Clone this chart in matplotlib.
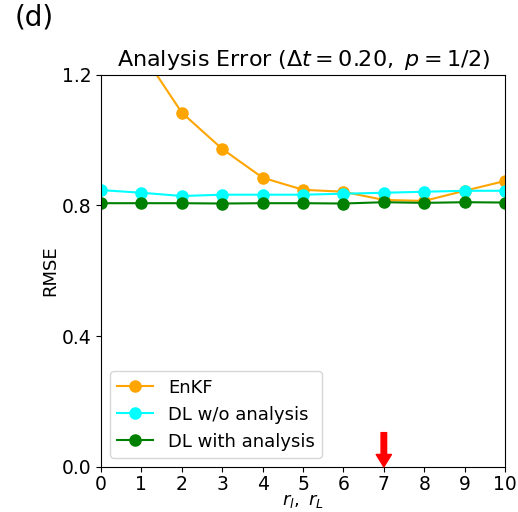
import numpy as np
import matplotlib.pyplot as plt

# localization radius
r = np.arange(0, 11)
enkf = [1.55, 1.27, 1.084, 0.973, 0.885, 0.848, 0.842, 0.817, 0.814, 0.845, 0.875]
dl_wo = [0.847, 0.839, 0.829, 0.833, 0.833, 0.833, 0.836, 0.839, 0.842, 0.845, 0.845]
dl_with = [0.807, 0.807, 0.807, 0.806, 0.807, 0.807, 0.806, 0.810, 0.808, 0.810, 0.809]
best_r = 7

fig = plt.figure(figsize=(5.18, 5.12), dpi=100)
ax = fig.add_axes([0.195, 0.088, 0.78, 0.766])

ax.plot(r, enkf, '-o', color='orange', markersize=8, label='EnKF')
ax.plot(r, dl_wo, '-o', color='cyan', markersize=8, label='DL w/o analysis')
ax.plot(r, dl_with, '-o', color='green', markersize=8, label='DL with analysis')

# red arrow marking the chosen radius
ax.annotate('', xy=(best_r, 0.0), xytext=(best_r, 0.105),
            arrowprops=dict(facecolor='red', edgecolor='red', width=4,
                            headwidth=11, headlength=9))

ax.set_xlim(0, 10)
ax.set_ylim(0, 1.2)
ax.set_xticks(range(0, 11))
ax.set_yticks([0.0, 0.4, 0.8, 1.2])
ax.tick_params(labelsize=13.5)
ax.tick_params(axis='x', pad=2)
ax.set_ylabel('RMSE', fontsize=13, labelpad=2)
ax.set_xlabel(r'$r_l,\ r_L$', fontsize=13, labelpad=-1)
ax.set_title(r'Analysis Error ($\Delta t = 0.20,\ p = 1/2$)', fontsize=16)
ax.legend(loc='lower left', fontsize=13)

fig.text(0.028, 0.965, '(d)', fontsize=20, va='center')

plt.savefig('out.png')
